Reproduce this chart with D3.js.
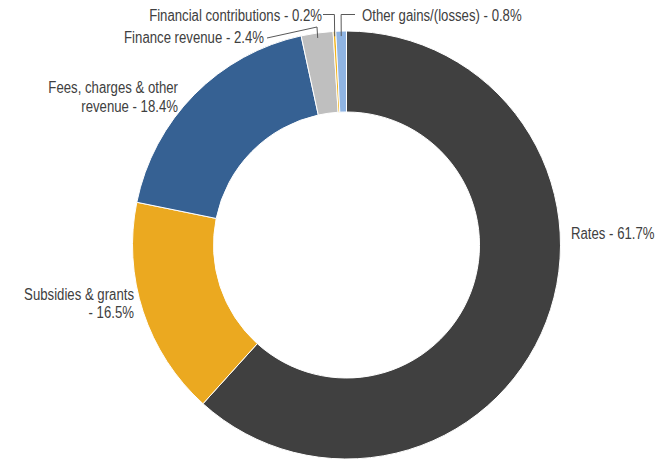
<!DOCTYPE html>
<html>
<head>
<meta charset="utf-8">
<script src="https://cdn.jsdelivr.net/npm/d3@7/dist/d3.min.js"></script>
<style>
  html, body { margin: 0; padding: 0; background: #fff; }
  svg { display: block; }
  text { font-family: "Liberation Sans", Arial, sans-serif; font-size: 15.6px; fill: #404040; }
</style>
</head>
<body>
<svg id="chart" width="662" height="460"></svg>
<script>
// Revenue composition, in percent, clockwise from 12 o'clock
const categories = [
  "Rates",
  "Subsidies & grants",
  "Fees, charges & other revenue",
  "Finance revenue",
  "Financial contributions",
  "Other gains/(losses)"
];
const shares = [61.7, 16.5, 18.4, 2.4, 0.2, 0.8];
const colors = ["#404040", "#EBA920", "#366193", "#BFBFBF", "#F2B41C", "#8FB4E3"];

// Label text lines (value appended from shares)
const labelLines = [
  ["Rates - {v}%"],
  ["Subsidies & grants", "- {v}%"],
  ["Fees, charges & other", "revenue - {v}%"],
  ["Finance revenue - {v}%"],
  ["Financial contributions - {v}%"],
  ["Other gains/(losses) - {v}%"]
];

// Label placement: anchor point, alignment, and optional leader elbow
const labelLayout = [
  { x: 571, y: 239, anchor: "start" },
  { x: 134, y: 299.5, anchor: "end" },
  { x: 178, y: 93, anchor: "end" },
  { x: 264, y: 43, anchor: "end", leader: { from: [267, 38], elbowY: 27 } },
  { x: 322, y: 21, anchor: "end", leader: { from: [323, 14.5], elbowY: 14.5 } },
  { x: 362, y: 21, anchor: "start", leader: { from: [355, 14.5], elbowY: 14.5 } }
];

const cx = 346.5, cy = 245, outerR = 214, innerR = 133;
const lineHeight = 19;
const condense = 0.845; // horizontal squeeze for a narrow face

const svg = d3.select("#chart");
const g = svg.append("g").attr("transform", `translate(${cx},${cy})`);

const data = categories.map((c, i) => ({ name: c, value: shares[i], i }));

const pie = d3.pie().value(d => d.value).sort(null).startAngle(0).endAngle(2 * Math.PI);
const arc = d3.arc().innerRadius(innerR).outerRadius(outerR);
const arcs = pie(data);

g.selectAll("path.slice")
  .data(arcs)
  .join("path")
  .attr("class", "slice")
  .attr("d", arc)
  .attr("fill", d => colors[d.data.i])
  .attr("stroke", "#fff")
  .attr("stroke-width", 1);

// Leader lines from labels to the outer edge of thin slices
arcs.forEach(a => {
  const lay = labelLayout[a.data.i];
  if (!lay.leader) return;
  const mid = (a.startAngle + a.endAngle) / 2;
  const px = cx + Math.sin(mid) * (outerR - 5);
  const py = cy - Math.cos(mid) * (outerR - 5);
  const [fx, fy] = lay.leader.from;
  const ex = cx + Math.sin(mid) * outerR;
  svg.append("polyline")
    .attr("points", [[fx, fy], [ex, lay.leader.elbowY], [px, py]].map(p => p.join(",")).join(" "))
    .attr("fill", "none")
    .attr("stroke", "#595959")
    .attr("stroke-width", 1);
});

// Labels
arcs.forEach(a => {
  const i = a.data.i;
  const lay = labelLayout[i];
  const t = svg.append("text")
    .attr("transform", `translate(${lay.x},${lay.y}) scale(${condense},1)`)
    .attr("text-anchor", lay.anchor);
  labelLines[i].forEach((ln, k) => {
    t.append("tspan")
      .attr("x", 0)
      .attr("dy", k === 0 ? 0 : lineHeight)
      .text(ln.replace("{v}", d3.format(".1f")(shares[i])));
  });
});
</script>
</body>
</html>
